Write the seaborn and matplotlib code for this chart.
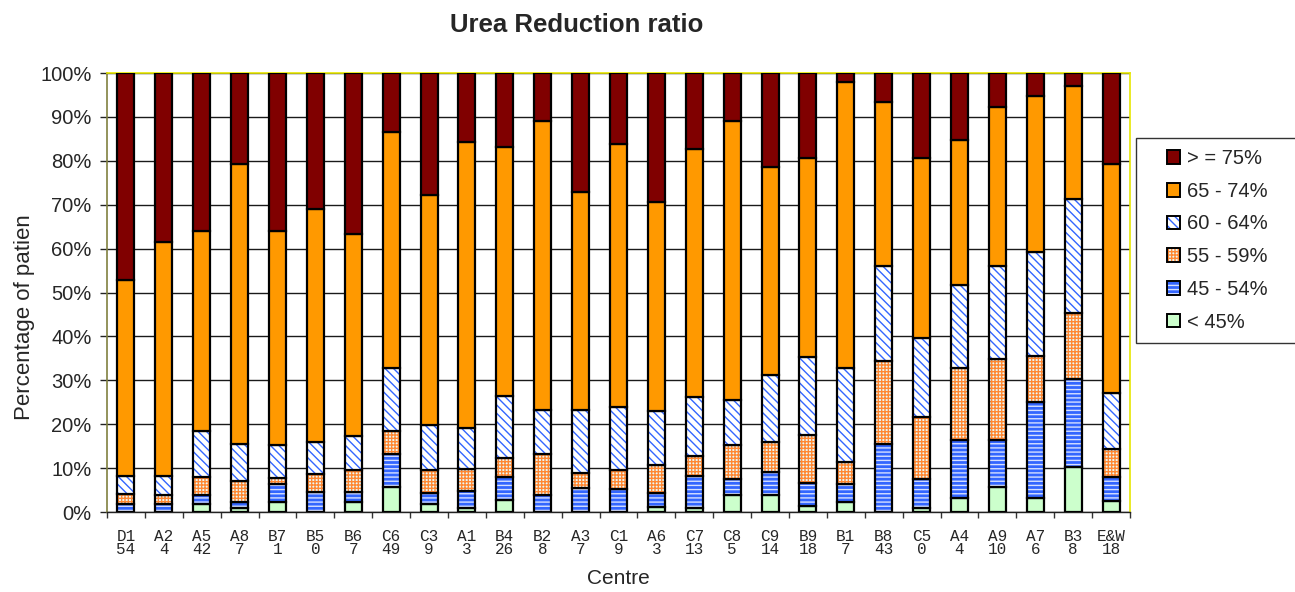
import numpy as np
import pandas as pd
import matplotlib
matplotlib.use("Agg")
import matplotlib.pyplot as plt
import matplotlib.patches as mpatches
from matplotlib.colors import to_rgba
from matplotlib.legend_handler import HandlerPatch
import seaborn as sns

# Centres and the number shown under each centre code
centres = ["D1", "A2", "A5", "A8", "B7", "B5", "B6", "C6", "C3", "A1", "B4", "B2", "A3", "C1",
           "A6", "C7", "C8", "C9", "B9", "B1", "B8", "C5", "A4", "A9", "A7", "B3", "E&W"]
counts = ["54", "4", "42", "7", "1", "0", "7", "49", "9", "3", "26", "8", "7", "9",
          "3", "13", "5", "14", "18", "7", "43", "0", "4", "10", "6", "8", "18"]

# Percentage of patients in each URR band (bottom to top of each bar)
urr_lt45 = [0.0, 0.0, 1.8, 0.8, 2.3, 0.0, 2.3, 5.8, 1.8, 1.0, 2.7, 0.0, 0.0, 0.0,
            1.1, 1.0, 3.9, 3.9, 1.4, 2.3, 0.0, 0.8, 3.3, 5.8, 3.1, 10.3, 2.4]
urr_45_54 = [1.8, 1.8, 2.1, 1.5, 4.0, 4.6, 2.3, 7.4, 2.5, 3.8, 5.2, 3.9, 5.5, 5.2,
             3.2, 7.3, 3.6, 5.3, 5.3, 4.1, 15.6, 6.7, 13.1, 10.6, 22.0, 20.0, 5.5]
urr_55_59 = [2.3, 2.1, 4.0, 4.8, 1.5, 4.1, 4.9, 5.2, 5.3, 5.1, 4.4, 9.3, 3.3, 4.4,
             6.4, 4.5, 7.8, 6.7, 10.9, 5.0, 18.9, 14.1, 16.3, 18.5, 10.5, 15.0, 6.5]
urr_60_64 = [4.2, 4.4, 10.5, 8.5, 7.5, 7.2, 7.7, 14.4, 10.3, 9.3, 14.1, 10.0, 14.4, 14.4,
             12.2, 13.5, 10.3, 15.3, 17.6, 21.5, 21.5, 18.0, 19.1, 21.1, 23.6, 26.1, 12.7]
urr_65_74 = [44.5, 53.1, 45.7, 63.7, 48.6, 53.1, 46.1, 53.8, 52.3, 65.1, 56.7, 65.9, 49.8, 59.9,
             47.8, 56.3, 63.5, 47.4, 45.4, 65.0, 37.5, 41.0, 32.9, 36.3, 35.5, 25.7, 52.2]
urr_ge75 = [47.2, 38.6, 35.9, 20.7, 36.1, 31.0, 36.7, 13.4, 27.8, 15.7, 16.9, 10.9, 27.0, 16.1,
            29.3, 17.4, 10.9, 21.4, 19.4, 2.1, 6.5, 19.4, 15.3, 7.7, 5.3, 2.9, 20.7]

band_labels = ["< 45%", "45 - 54%", "55 - 59%", "60 - 64%", "65 - 74%", "> = 75%"]
band_values = [urr_lt45, urr_45_54, urr_55_59, urr_60_64, urr_65_74, urr_ge75]

# Fill colour, hatch pattern and hatch colour for each band
band_styles = [
    dict(face="#CCFFCC", hatch="", hatch_color="#000000"),
    dict(face="#3366FF", hatch="----", hatch_color="#D6E0FF"),
    dict(face="#EAF8F6", hatch="+++++", hatch_color="#FF8833"),
    dict(face="#FFFFFF", hatch="\\" * 4, hatch_color="#3366FF"),
    dict(face="#FF9900", hatch="", hatch_color="#000000"),
    dict(face="#800000", hatch="", hatch_color="#000000"),
]

tick_labels = [f"{c}\n{n}" for c, n in zip(centres, counts)]

sns.set_theme(style="white")
plt.rcParams["font.family"] = ["Liberation Sans", "DejaVu Sans"]
plt.rcParams["hatch.linewidth"] = 1.0

fig = plt.figure(figsize=(12.95, 5.92), dpi=100)
ax = fig.add_axes([107 / 1295, 1 - 512 / 592, (1130 - 107) / 1295, (512 - 73) / 592])

bottom = np.zeros(len(centres))
legend_handles = []
for label, values, style in zip(band_labels, band_values, band_styles):
    df = pd.DataFrame({"centre": centres, "pct": values})
    n_before = len(ax.patches)
    sns.barplot(data=df, x="centre", y="pct", order=centres, color=style["face"],
                saturation=1, width=0.45, errorbar=None, bottom=bottom.copy(),
                edgecolor="black", linewidth=1.6, hatch=style["hatch"],
                zorder=3, ax=ax)
    for p in ax.patches[n_before:]:
        p.set_facecolor(style["face"])
        p._hatch_color = to_rgba(style["hatch_color"])
    h = mpatches.Patch(facecolor=style["face"], edgecolor="black", linewidth=1.4,
                       hatch=style["hatch"], label=label)
    h._hatch_color = to_rgba(style["hatch_color"])
    legend_handles.append(h)
    bottom += np.asarray(values)

# Axes limits, ticks and grid
ax.set_xlim(-0.5, len(centres) - 0.5)
ax.set_ylim(0, 100)
ax.set_yticks(np.arange(0, 101, 10))
ax.set_yticklabels([f"{v}%" for v in range(0, 101, 10)], fontsize=14.5)
ax.yaxis.grid(True, color="#1a1a1a", linewidth=1.0, zorder=0)
ax.set_axisbelow(True)

ax.set_xticks(np.arange(len(centres)))
ax.set_xticklabels(tick_labels, fontsize=11.5, family=["Liberation Mono", "DejaVu Sans Mono"],
                   linespacing=0.9)
ax.set_xticks(np.arange(len(centres) + 1) - 0.5, minor=True)
ax.tick_params(axis="x", which="major", length=0, pad=12)
ax.tick_params(axis="x", which="minor", length=4, width=1, color="#333333", direction="out",
               bottom=True)
ax.tick_params(axis="y", which="major", length=5, width=1, color="#222222", direction="out",
               left=True, pad=6)

for side, col, lw in [("left", "#808040", 1.2), ("bottom", "#222222", 1.0),
                      ("top", "#E6E600", 1.2), ("right", "#E6E600", 1.2)]:
    ax.spines[side].set_visible(True)
    ax.spines[side].set_color(col)
    ax.spines[side].set_linewidth(lw)

ax.set_xlabel("Centre", fontsize=15, labelpad=8)
ax.set_ylabel("Percentage of patien", fontsize=16)
ax.yaxis.set_label_coords(-0.070, 0.444)

fig.text(577 / 1295, 1 - 25 / 592, "Urea Reduction ratio", ha="center", va="center",
         fontsize=18.5, fontweight="bold")


# Legend keys: a small square placed at the right end of the key box
def square_key(legend, orig_handle, xdescent, ydescent, width, height, fontsize):
    side = 0.68 * fontsize
    return mpatches.Rectangle((width - side - xdescent, (height - side) / 2 - ydescent),
                              side, side)


leg = fig.legend(handles=legend_handles[::-1], loc="upper left",
                 bbox_to_anchor=(1136 / 1295, 1 - 342 / 592, 200 / 1295, 204 / 592),
                 mode="expand", fontsize=14.5,
                 frameon=True, fancybox=False, edgecolor="#333333", framealpha=1,
                 handlelength=1.65, handleheight=0.7, handletextpad=0.35,
                 labelspacing=0.68, borderpad=0.55, borderaxespad=0,
                 handler_map={mpatches.Patch: HandlerPatch(patch_func=square_key)})
leg.get_frame().set_linewidth(1.0)

fig.savefig("out.png", dpi=100, facecolor="white")
